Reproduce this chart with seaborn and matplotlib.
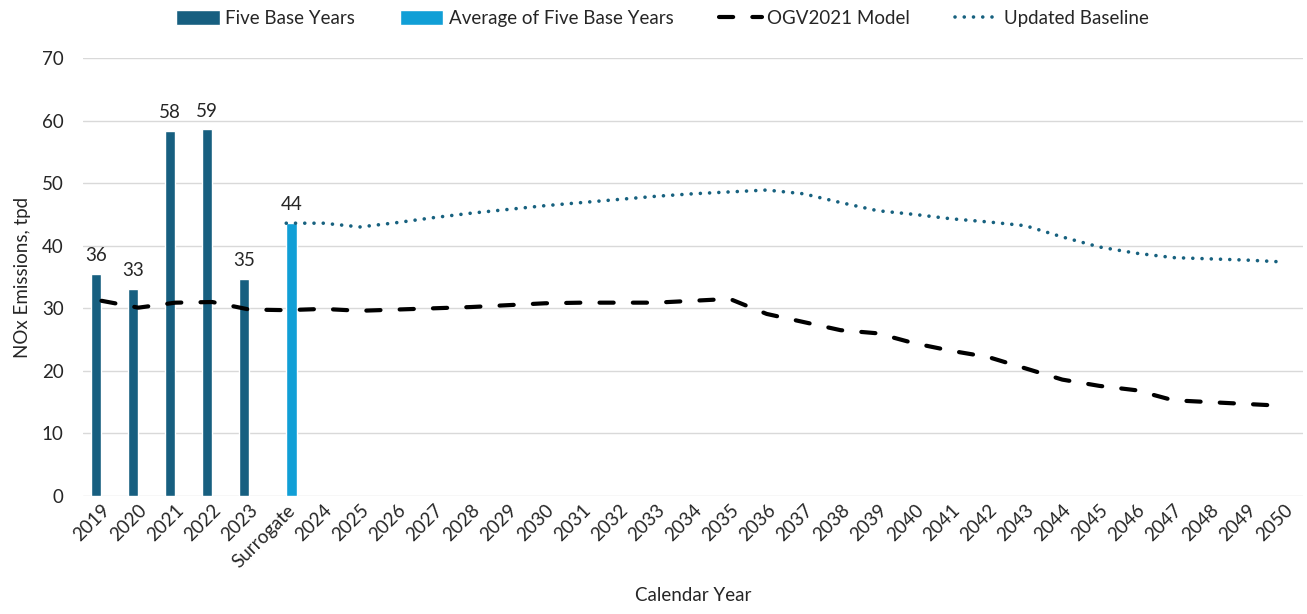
import numpy as np
import pandas as pd
import matplotlib
matplotlib.use("Agg")
import matplotlib.pyplot as plt
from matplotlib.patches import Patch
from matplotlib.lines import Line2D
import seaborn as sns

categories = ["2019", "2020", "2021", "2022", "2023", "Surrogate"] + [str(y) for y in range(2024, 2051)]

base_years = ["2019", "2020", "2021", "2022", "2023"]
base_values = [35.5, 33.1, 58.4, 58.6, 34.7]
surrogate_value = [43.6]

ogv2021 = [31.2, 30.1, 30.9, 31.0, 29.8, 29.7,
           29.9, 29.6, 29.8, 30.0, 30.2, 30.5, 30.8, 30.9, 30.9, 30.9, 31.2, 31.5,
           29.1, 27.8, 26.5, 26.0, 24.4, 23.2, 22.2, 20.4, 18.6, 17.6, 16.9, 15.3,
           15.0, 14.7, 14.4]

updated_baseline = [np.nan] * 5 + [43.6,
                    43.6, 43.0, 43.7, 44.5, 45.2, 45.8, 46.4, 46.9, 47.4, 47.9, 48.3, 48.6,
                    48.9, 48.3, 46.9, 45.6, 45.0, 44.3, 43.8, 43.2, 41.4, 39.8, 38.8, 38.1,
                    37.9, 37.7, 37.4]

series_names = ["Five Base Years", "Average of Five Base Years", "OGV2021 Model", "Updated Baseline"]
dark_blue = "#175f80"
light_blue = "#119fd6"
dot_blue = "#17617f"
text_col = "#262626"
fs = 13.5

sns.set_theme(style="white")
plt.rcParams["font.family"] = ["Lato", "DejaVu Sans"]

bars = pd.DataFrame({
    "category": base_years + ["Surrogate"],
    "value": base_values + surrogate_value,
    "series": [series_names[0]] * 5 + [series_names[1]],
})
lines = pd.DataFrame({
    "pos": np.arange(len(categories)),
    "ogv": ogv2021,
    "upd": updated_baseline,
})

fig = plt.figure(figsize=(13.07, 6.14), dpi=100)
ax = fig.add_axes([0.0635, 0.1922, 0.9331, 0.7133])

sns.barplot(data=bars, x="category", y="value", hue="series", order=categories,
            hue_order=series_names[:2], palette=[dark_blue, light_blue],
            dodge=True, width=0.58, saturation=1, legend=False, ax=ax, errorbar=None)

for cont in ax.containers:
    ax.bar_label(cont, fmt="{:.0f}", padding=7, fontsize=fs, color=text_col)

sns.lineplot(data=lines, x="pos", y="ogv", color="black", lw=3.0, ax=ax,
             dashes=False, legend=False)
ax.lines[-1].set_dashes((3.4, 4.6))
ax.lines[-1].set_dash_capstyle("round")
ax.lines[-1].set_solid_capstyle("round")

sns.lineplot(data=lines, x="pos", y="upd", color=dot_blue, lw=2.6, ax=ax,
             legend=False)
ax.lines[-1].set_dashes((0.01, 2.55))
ax.lines[-1].set_dash_capstyle("round")

ax.set_xlim(-0.5, len(categories) - 0.5)
ax.set_ylim(0, 70)
ax.set_yticks(np.arange(0, 71, 10))
ax.set_xticks(np.arange(len(categories)))
ax.set_xticklabels(categories, rotation=45, ha="right", rotation_mode="anchor",
                   fontsize=fs, color=text_col)
ax.tick_params(axis="x", pad=4, length=0)
ax.tick_params(axis="y", labelsize=fs, labelcolor=text_col, length=0, pad=14)
ax.yaxis.grid(True, color="#d9d9d9", lw=1.0)
ax.set_axisbelow(True)
for s in ax.spines.values():
    s.set_visible(False)

ax.set_xlabel("Calendar Year", fontsize=fs, color=text_col, labelpad=12)
ax.set_ylabel("NOx Emissions, tpd", fontsize=fs, color=text_col, labelpad=8)

handles = [
    Patch(facecolor=dark_blue, label=series_names[0]),
    Patch(facecolor=light_blue, label=series_names[1]),
    Line2D([0], [0], color="black", lw=3.0, dashes=(3.4, 4.6), dash_capstyle="round", label=series_names[2]),
    Line2D([0], [0], color=dot_blue, lw=2.6, dashes=(0.01, 2.55), dash_capstyle="round", label=series_names[3]),
]
fig.legend(handles=handles, loc="center", bbox_to_anchor=(0.507, 0.97), ncol=4,
           frameon=False, fontsize=fs, handlelength=2.3, handleheight=0.9,
           columnspacing=2.4, handletextpad=0.3)

fig.savefig("out.png", dpi=100)
